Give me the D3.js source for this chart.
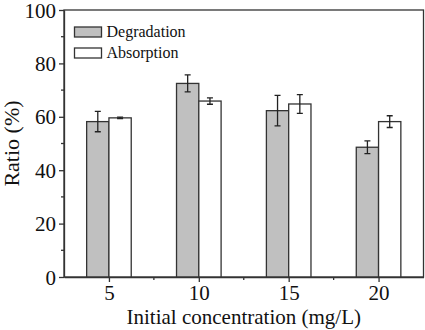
<!DOCTYPE html>
<meta charset="utf-8">
<style>
body { margin: 0; background: #fff; }
svg { display: block; }
svg text { font-family: "Liberation Serif", "Times New Roman", serif !important; fill: #111; }
.bar { stroke: #333; stroke-width: 1.3px; }
.err { stroke: #222; stroke-width: 1.3px; fill: none; }
.axis path, .axis line { stroke: #333; stroke-width: 1.3px; }
</style>
<svg width="425" height="330"></svg>
<script src="https://d3js.org/d3.v7.min.js"></script>
<script>
var concentrations = [5, 10, 15, 20];
var degradation = [58.2, 72.5, 62.3, 48.6];
var degradationErr = [3.8, 3.2, 5.7, 2.4];
var absorption = [59.6, 65.9, 64.8, 58.2];
var absorptionErr = [0.3, 1.2, 3.5, 2.2];
var yTicks = [0, 20, 40, 60, 80, 100];
var seriesNames = ["Degradation", "Absorption"];

var svg = d3.select("svg"),
    pl = 64, pr = 423.5, pt = 10, pb = 277;

var x = d3.scaleLinear().domain([2.5, 22.5]).range([pl, pr]);
var y = d3.scaleLinear().domain([0, 100]).range([pb, pt]);
var bw = 1.24; // bar width in x units

var series = [
  {name: seriesNames[0], vals: degradation, errs: degradationErr, fill: "#c0c0c0", off: -bw},
  {name: seriesNames[1], vals: absorption, errs: absorptionErr, fill: "#ffffff", off: 0}
];

// frame
svg.append("rect")
  .attr("x", pl).attr("y", pt)
  .attr("width", pr - pl).attr("height", pb - pt)
  .attr("fill", "none").attr("stroke", "#333").attr("stroke-width", 1.3);

series.forEach(function(s) {
  var g = svg.append("g");
  g.selectAll("rect").data(concentrations).join("rect")
    .attr("class", "bar")
    .attr("x", function(c) { return x(c + s.off); })
    .attr("width", x(bw) - x(0))
    .attr("y", function(c, i) { return y(s.vals[i]); })
    .attr("height", function(c, i) { return y(0) - y(s.vals[i]); })
    .attr("fill", s.fill);

  var cx = function(c) { return x(c + s.off + bw / 2); };
  g.selectAll("path.err").data(concentrations).join("path")
    .attr("class", "err")
    .attr("d", function(c, i) {
      var px = cx(c), hi = y(s.vals[i] + s.errs[i]), lo = y(s.vals[i] - s.errs[i]);
      return "M" + (px - 3) + "," + hi + "H" + (px + 3) +
             "M" + px + "," + hi + "V" + lo +
             "M" + (px - 3) + "," + lo + "H" + (px + 3);
    });
});

// axes
var xAxis = svg.append("g").attr("class", "axis")
  .attr("transform", "translate(0," + pb + ")")
  .call(d3.axisBottom(x).tickValues(concentrations).tickSize(5).tickSizeOuter(0).tickPadding(3));
xAxis.append("g").selectAll("line").data([7.5, 12.5, 17.5]).join("line")
  .attr("x1", function(d) { return x(d); }).attr("x2", function(d) { return x(d); })
  .attr("y1", 0).attr("y2", 3);

var yAxis = svg.append("g").attr("class", "axis")
  .attr("transform", "translate(" + pl + ",0)")
  .call(d3.axisLeft(y).tickValues(yTicks).tickSize(5).tickSizeOuter(0).tickPadding(3));
yAxis.append("g").selectAll("line").data([10, 30, 50, 70, 90]).join("line")
  .attr("y1", function(d) { return y(d); }).attr("y2", function(d) { return y(d); })
  .attr("x1", 0).attr("x2", -3);

svg.selectAll(".axis text").attr("font-size", 21);
yAxis.selectAll(".tick text").attr("dy", "0.34em");

svg.append("text")
  .attr("x", (x(5) + x(20)) / 2).attr("y", 324)
  .attr("text-anchor", "middle").attr("font-size", 21)
  .text("Initial concentration (mg/L)");

svg.append("text")
  .attr("transform", "translate(19," + ((pt + pb) / 2) + ") rotate(-90)")
  .attr("text-anchor", "middle").attr("font-size", 22)
  .text("Ratio (%)");

// legend
var leg = svg.append("g").attr("transform", "translate(74.5,27)");
series.forEach(function(s, i) {
  leg.append("rect")
    .attr("x", 0).attr("y", i * 21)
    .attr("width", 27).attr("height", 10)
    .attr("fill", s.fill).attr("stroke", "#333").attr("stroke-width", 1.3);
  leg.append("text")
    .attr("x", 32).attr("y", i * 21 + 10)
    .attr("font-size", 16)
    .text(s.name);
});
</script>
